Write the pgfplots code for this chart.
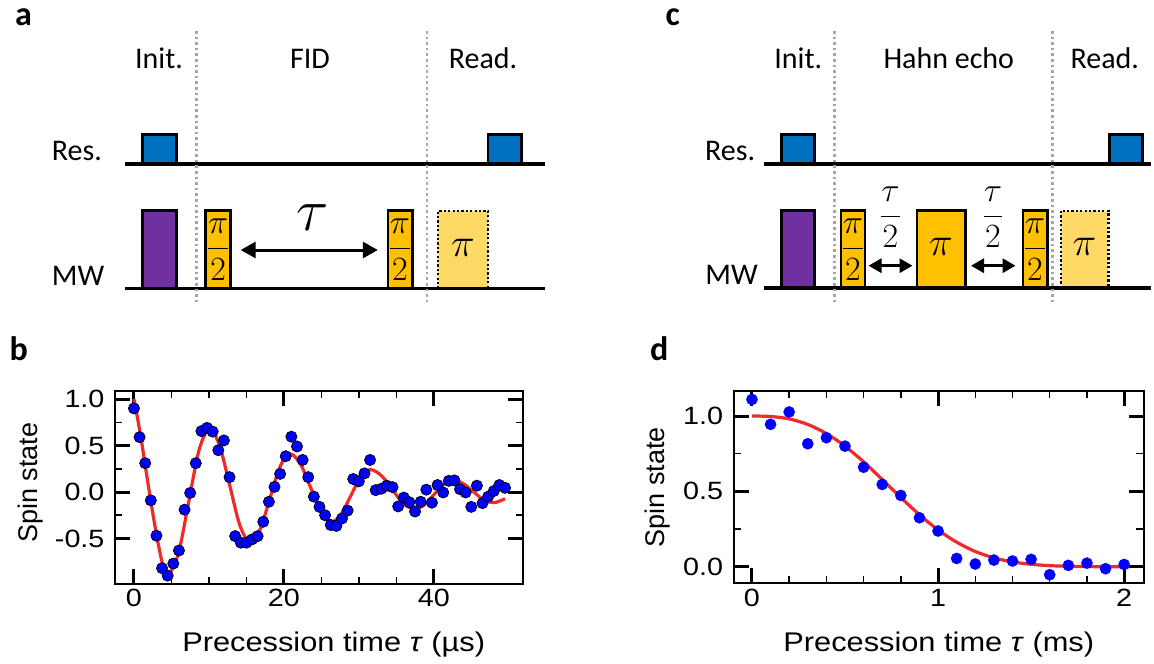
\RequirePackage{fix-cm}
\documentclass[border=0pt]{standalone}
\usepackage{amsmath}
\usepackage{graphicx}
\usepackage{fontspec}
\setmainfont{Carlito}
\newfontfamily\arial{Liberation Sans}
\usepackage{pgfplots}
\pgfplotsset{compat=1.18}
\usetikzlibrary{arrows.meta}
\newcommand{\hs}[1]{\scalebox{1.15}[1]{#1}}
\newcommand{\hl}[1]{\scalebox{1.14}[1]{#1}}
\definecolor{resblue}{HTML}{0070C0}
\definecolor{mwpurple}{HTML}{7030A0}
\definecolor{pulseorange}{HTML}{FFC000}
\definecolor{pulselight}{HTML}{FFD966}
\definecolor{divgray}{HTML}{A6A6A6}
\definecolor{fitred}{HTML}{F02A2A}
\tikzset{
  pulse/.style={draw=black, line width=2.6pt, line join=miter},
  pulsedot/.style={draw=black, line width=2.3pt, dash pattern=on 2.2pt off 2.2pt, fill=pulselight},
  baseln/.style={black, line width=3.3pt},
  divider/.style={divgray, line width=2.6pt, dash pattern=on 2.6pt off 3pt},
  lbl/.style={font=\fontsize{30}{32}\selectfont, inner sep=0pt},
}
\pgfplotsset{
  plotax/.style={anchor=north west, scale only axis, tick align=inside,
    major tick length=15pt, minor tick length=7.5pt,
    every major tick/.append style={line width=3pt, black},
    every minor tick/.append style={line width=1.5pt, black},
    axis line style={line width=2pt},
    tick label style={font=\arial\fontsize{25}{27}\selectfont},
    every x tick label/.append style={yshift=-2pt},
    every y tick label/.append style={xshift=-7pt},
    xtick pos=both, ytick pos=both},
}
\begin{document}
\begin{tikzpicture}
\path[use as bounding box] (0pt,0pt) rectangle (1154pt,-664pt);
\begin{axis}[at={(0pt,0pt)}, anchor=north west, scale only axis, width=1154pt, height=664pt,
  xmin=0, xmax=1154, ymin=0, ymax=664, y dir=reverse, hide axis, clip=false]
% ---------------- panel a ----------------
\addplot[pulse, fill=resblue] coordinates {(142.5,164)(142.5,134.7)(176.2,134.7)(176.2,164)} --cycle;
\addplot[pulse, fill=resblue] coordinates {(488,164)(488,134.7)(521.5,134.7)(521.5,164)} --cycle;
\addplot[pulse, fill=mwpurple] coordinates {(142.5,288.5)(142.5,210.7)(176.2,210.7)(176.2,288.5)} --cycle;
\addplot[pulse, fill=pulseorange] coordinates {(205.5,288.5)(205.5,210.7)(230.7,210.7)(230.7,288.5)} --cycle;
\addplot[pulse, fill=pulseorange] coordinates {(387.8,288.5)(387.8,210.7)(412.2,210.7)(412.2,288.5)} --cycle;
\addplot[pulsedot] coordinates {(438,288.5)(438,210.7)(487.8,210.7)(487.8,288.5)} --cycle;
\addplot[baseln] coordinates {(124.8,164)(545,164)};
\addplot[baseln] coordinates {(124.8,288.5)(545,288.5)};
\addplot[divider] coordinates {(196.3,31)(196.3,305)};
\addplot[divider] coordinates {(427,31)(427,305)};
\addplot[line width=3pt, {Triangle[length=15pt,width=16pt]}-{Triangle[length=15pt,width=16pt]}] coordinates {(240.7,250)(377.8,250)};
\node[font=\bfseries\fontsize{34}{36}\selectfont, anchor=base west, inner sep=0pt] at (axis cs:14.8,25) {a};
\node[lbl, anchor=base] at (axis cs:159,68.3) {Init.};
\node[lbl, anchor=base] at (axis cs:310,68.3) {FID};
\node[lbl, anchor=base] at (axis cs:483,68.3) {Read.};
\node[lbl, anchor=base east] at (axis cs:102,160) {Res.};
\node[lbl, anchor=base east] at (axis cs:104.4,285) {MW};
\node[anchor=base, inner sep=0pt, font=\fontsize{60}{60}\selectfont] at (axis cs:313,230) {$\tau$};
\node[inner sep=0pt, font=\fontsize{34}{34}\selectfont] at (axis cs:218.1,249.6) {$\dfrac{\pi}{2}$};
\node[inner sep=0pt, font=\fontsize{34}{34}\selectfont] at (axis cs:400,249.6) {$\dfrac{\pi}{2}$};
\node[inner sep=0pt, font=\fontsize{40}{40}\selectfont] at (axis cs:462.9,247.5) {$\pi$};
% ---------------- panel c ----------------
\addplot[pulse, fill=resblue] coordinates {(781.3,164)(781.3,134.7)(814.5,134.7)(814.5,164)} --cycle;
\addplot[pulse, fill=resblue] coordinates {(1109.2,164)(1109.2,134.7)(1142.6,134.7)(1142.6,164)} --cycle;
\addplot[pulse, fill=mwpurple] coordinates {(781.3,288)(781.3,210.7)(814.5,210.7)(814.5,288)} --cycle;
\addplot[pulse, fill=pulseorange] coordinates {(840.9,288)(840.9,210.7)(864.8,210.7)(864.8,288)} --cycle;
\addplot[pulse, fill=pulseorange] coordinates {(916.8,288)(916.8,210.7)(965.3,210.7)(965.3,288)} --cycle;
\addplot[pulse, fill=pulseorange] coordinates {(1022.9,288)(1022.9,210.7)(1047.2,210.7)(1047.2,288)} --cycle;
\addplot[pulsedot] coordinates {(1060.7,288)(1060.7,210.7)(1108.4,210.7)(1108.4,288)} --cycle;
\addplot[baseln] coordinates {(763.5,164)(1150.6,164)};
\addplot[baseln] coordinates {(763.5,288)(1150.6,288)};
\addplot[divider] coordinates {(834.3,31)(834.3,305)};
\addplot[divider] coordinates {(1052.7,31)(1052.7,305)};
\addplot[line width=3pt, {Triangle[length=13pt,width=14pt]}-{Triangle[length=13pt,width=14pt]}] coordinates {(868.5,265.7)(912.5,265.7)};
\addplot[line width=3pt, {Triangle[length=13pt,width=14pt]}-{Triangle[length=13pt,width=14pt]}] coordinates {(971,265.7)(1015.5,265.7)};
\node[font=\bfseries\fontsize{34}{36}\selectfont, anchor=base west, inner sep=0pt] at (axis cs:665.5,25) {c};
\node[lbl, anchor=base] at (axis cs:798.3,68.3) {Init.};
\node[lbl, anchor=base] at (axis cs:948.8,68.3) {Hahn echo};
\node[lbl, anchor=base] at (axis cs:1104.8,68.3) {Read.};
\node[lbl, anchor=base east] at (axis cs:755.4,160) {Res.};
\node[lbl, anchor=base east] at (axis cs:758,284) {MW};
\node[inner sep=0pt, font=\fontsize{34}{34}\selectfont] at (axis cs:890.5,217.4) {$\dfrac{\tau}{2}$};
\node[inner sep=0pt, font=\fontsize{34}{34}\selectfont] at (axis cs:993,217.4) {$\dfrac{\tau}{2}$};
\node[inner sep=0pt, font=\fontsize{34}{34}\selectfont] at (axis cs:852.8,249.6) {$\dfrac{\pi}{2}$};
\node[inner sep=0pt, font=\fontsize{34}{34}\selectfont] at (axis cs:1035,249.6) {$\dfrac{\pi}{2}$};
\node[inner sep=0pt, font=\fontsize{40}{40}\selectfont] at (axis cs:941,247) {$\pi$};
\node[inner sep=0pt, font=\fontsize{40}{40}\selectfont] at (axis cs:1084.5,247) {$\pi$};
% panel letters b, d
\node[font=\bfseries\fontsize{34}{36}\selectfont, anchor=base west, inner sep=0pt] at (axis cs:9.3,360) {b};
\node[font=\bfseries\fontsize{34}{36}\selectfont, anchor=base west, inner sep=0pt] at (axis cs:649.9,360) {d};
\end{axis}
% ---------------- panel b ----------------
\begin{axis}[plotax, at={(115pt,-390.7pt)}, width=408pt, height=193.3pt,
  xmin=-2.53, xmax=51.9, ymin=-0.99, ymax=1.09,
  xtick={0,20,40}, xticklabels={\hs{0},\hs{20},\hs{40}},
  ytick={-0.5,0,0.5,1}, yticklabels={\hs{-0.5},\hs{0.0},\hs{0.5},\hs{1.0}},
  minor x tick num=3, minor y tick num=1,
  xlabel={\hl{Precession time \textit{τ} (µs)}}, ylabel={Spin state},
  every axis x label/.append style={at={(axis description cs:0.536,0)}, anchor=base, yshift=-67.7pt, font=\arial\fontsize{27}{29}\selectfont},
  every axis y label/.append style={at={(axis description cs:-0.208,0.525)}, anchor=center, font=\arial\fontsize{27}{29}\selectfont}]
\addplot[only marks, mark=*, mark size=5.6pt, mark options={fill=blue, draw=black, line width=0.7pt}] coordinates {
(0,0.90)(0.75,0.59)(1.5,0.31)(2.25,-0.09)(3,-0.47)(3.75,-0.82)(4.5,-0.90)(5.25,-0.77)(6,-0.63)(6.75,-0.19)
(7.5,-0.01)(8.25,0.31)(9,0.655)(9.75,0.69)(10.5,0.65)(11.25,0.45)(12,0.555)(12.75,0.16)(13.5,-0.475)(14.25,-0.545)
(15,-0.545)(15.75,-0.51)(16.5,-0.475)(17.25,-0.32)(18,-0.105)(18.75,0.055)(19.5,0.195)(20.25,0.385)(21,0.595)(21.75,0.49)
(22.5,0.345)(23.25,0.16)(24,-0.05)(24.75,-0.16)(25.5,-0.25)(26.25,-0.355)(27,-0.365)(27.75,-0.285)(28.5,-0.2)(29.25,0.14)
(30,0.115)(30.75,0.2)(31.5,0.345)(32.25,0.02)(33,0.035)(33.75,0.068)(34.5,0.052)(35.25,-0.155)(36,-0.06)(36.75,-0.11)
(37.5,-0.21)(38.25,-0.105)(39,0.025)(39.75,-0.115)(40.5,0.075)(41.25,-0.005)(42,0.12)(42.75,0.125)(43.5,0.03)(44.25,-0.005)
(45,-0.16)(45.75,0.068)(46.5,-0.12)(47.25,-0.05)(48,0.01)(48.75,0.075)(49.5,0.045)};
\addplot[fitred, line width=3.2pt, smooth, tension=0.55] coordinates {
(0,1.0)(0.9,0.6)(2.05,0.0)(3.1,-0.5)(3.9,-0.8)(4.56,-0.89)(5.93,-0.66)(7.305,-0.105)(8.68,0.45)(10.05,0.68)
(11.41,0.501)(12.78,0.07)(14.14,-0.361)(15.5,-0.54)(16.83,-0.401)(18.15,-0.065)(19.48,0.271)(20.8,0.41)
(22.19,0.303)(23.58,0.045)(24.96,-0.213)(26.35,-0.32)(27.64,-0.238)(28.93,-0.04)(30.21,0.158)(31.5,0.24)
(32.98,0.178)(34.45,0.028)(35.93,-0.123)(37.4,-0.185)(38.7,-0.14)(40.0,-0.03)(41.3,0.08)(42.6,0.125)
(43.93,0.09)(45.25,0.005)(46.58,-0.08)(47.9,-0.115)(48.7,-0.1)(49.5,-0.072)};
\end{axis}
% ---------------- panel d ----------------
\begin{axis}[plotax, at={(733.7pt,-390.7pt)}, width=410pt, height=192.6pt,
  xmin=-0.098, xmax=2.105, ymin=-0.11, ymax=1.168,
  xtick={0,1,2}, xticklabels={\hs{0},\hs{1},\hs{2}},
  ytick={0,0.5,1}, yticklabels={\hs{0.0},\hs{0.5},\hs{1.0}},
  minor x tick num=4, minor y tick num=1,
  xlabel={\hl{Precession time \textit{τ} (ms)}}, ylabel={Spin state},
  every axis x label/.append style={at={(axis description cs:0.5,0)}, anchor=base, yshift=-67.7pt, font=\arial\fontsize{27}{29}\selectfont},
  every axis y label/.append style={at={(axis description cs:-0.187,0.5)}, anchor=center, font=\arial\fontsize{27}{29}\selectfont}]
\addplot[only marks, mark=*, mark size=5.6pt, mark options={fill=blue, draw=blue}] coordinates {
(0,1.11)(0.1,0.945)(0.2,1.027)(0.3,0.816)(0.4,0.856)(0.5,0.80)(0.6,0.66)(0.7,0.546)(0.8,0.473)(0.9,0.325)
(1.0,0.237)(1.1,0.055)(1.2,0.018)(1.3,0.044)(1.4,0.038)(1.5,0.049)(1.6,-0.053)(1.7,0.009)(1.8,0.024)(1.9,-0.013)(2.0,0.015)};
\addplot[fitred, line width=3.2pt, smooth] coordinates {
(0,1.0)(0.1,0.997)(0.2,0.981)(0.3,0.944)(0.4,0.884)(0.5,0.800)(0.6,0.696)(0.7,0.579)(0.8,0.459)(0.9,0.345)
(1.0,0.244)(1.1,0.163)(1.2,0.101)(1.3,0.059)(1.4,0.032)(1.5,0.016)(1.6,0.007)(1.7,0.003)(1.8,0.001)(1.9,0.0)(2.0,0.0)};
\end{axis}
\end{tikzpicture}
\end{document}
